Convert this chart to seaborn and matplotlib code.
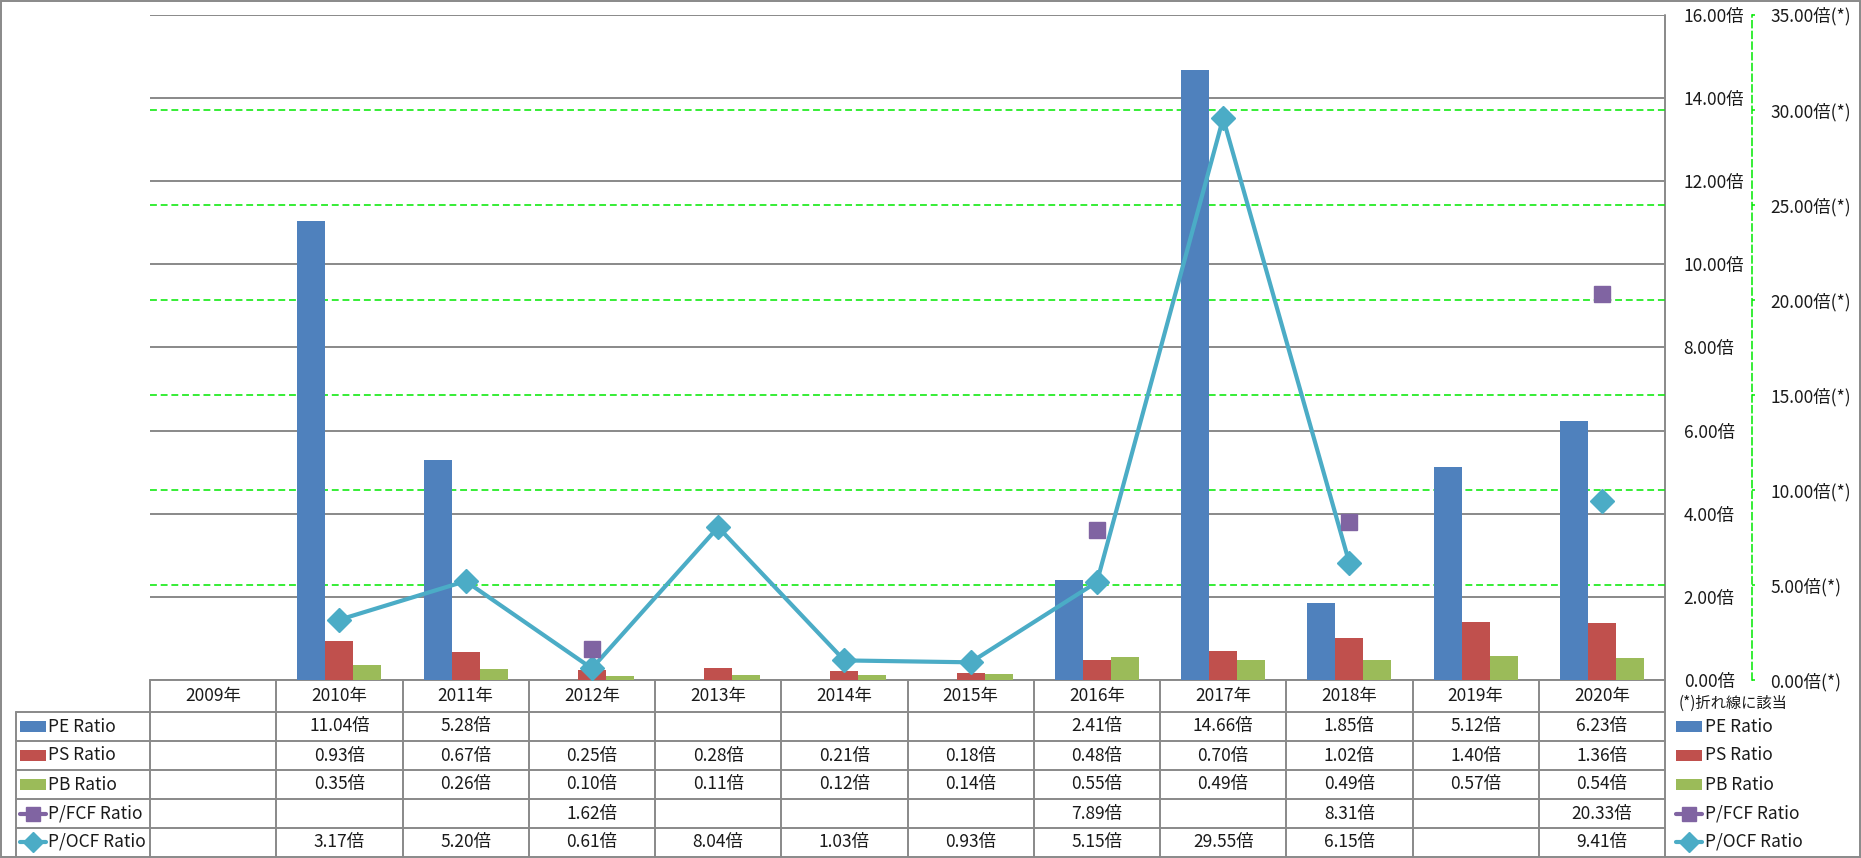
import numpy as np
import pandas as pd
import matplotlib
matplotlib.use("Agg")
import matplotlib.pyplot as plt
import seaborn as sns
from matplotlib.patches import Rectangle
from matplotlib.lines import Line2D
from matplotlib.transforms import blended_transform_factory

# ---------------- data ----------------
years = ["2009年", "2010年", "2011年", "2012年", "2013年", "2014年",
         "2015年", "2016年", "2017年", "2018年", "2019年", "2020年"]
nan = np.nan
pe_ratio = [nan, 11.04, 5.28, nan, nan, nan, nan, 2.41, 14.66, 1.85, 5.12, 6.23]
ps_ratio = [nan, 0.93, 0.67, 0.25, 0.28, 0.21, 0.18, 0.48, 0.70, 1.02, 1.40, 1.36]
pb_ratio = [nan, 0.35, 0.26, 0.10, 0.11, 0.12, 0.14, 0.55, 0.49, 0.49, 0.57, 0.54]
pfcf_ratio = [nan, nan, nan, 1.62, nan, nan, nan, 7.89, nan, 8.31, nan, 20.33]
pocf_ratio = [nan, 3.17, 5.20, 0.61, 8.04, 1.03, 0.93, 5.15, 29.55, 6.15, nan, 9.41]

bar_names = ["PE Ratio", "PS Ratio", "PB Ratio"]
line_names = ["P/FCF Ratio", "P/OCF Ratio"]
primary_ticks = [0, 2, 4, 6, 8, 10, 12, 14, 16]
secondary_ticks = [0, 5, 10, 15, 20, 25, 30, 35]
note_text = "(*)折れ線に該当"

# ---------------- style ----------------
C_PE, C_PS, C_PB = "#4F81BD", "#C0504D", "#9BBB59"
C_FCF, C_OCF = "#8064A2", "#4BACC6"
GRAY = "#898989"
GREEN = "#00E800"
TXT = "#1a1a1a"
FS = 12.5

sns.set_style("white")
plt.rcParams["font.family"] = ["Noto Sans CJK JP", "DejaVu Sans"]

W, H, DPI = 1861, 858, 100
fig = plt.figure(figsize=(W / DPI, H / DPI), dpi=DPI)
fig.patch.set_facecolor("white")

# plot area in pixels
L, R, T, B = 150, 1665, 14.7, 680
row_edges = [712, 741, 770, 799, 828, 856]

# overlay for table / frame
ov = fig.add_axes([0, 0, 1, 1])
ov.set_xlim(0, W)
ov.set_ylim(H, 0)
ov.axis("off")

ax = fig.add_axes([L / W, (H - B) / H, (R - L) / W, (B - T) / H])
ax.patch.set_alpha(0)

df = pd.DataFrame({
    "year": years * 3,
    "series": [bar_names[0]] * 12 + [bar_names[1]] * 12 + [bar_names[2]] * 12,
    "value": pe_ratio + ps_ratio + pb_ratio,
}).dropna()

sns.barplot(data=df, x="year", y="value", hue="series", order=years,
            hue_order=bar_names, palette=[C_PE, C_PS, C_PB], width=0.665,
            saturation=1, errorbar=None, linewidth=0, legend=False,
            ax=ax, zorder=3)

ax2 = ax.twinx()
xpos = np.arange(len(years))
ax2.plot(xpos, pocf_ratio, color=C_OCF, lw=3, marker="D", ms=12.5,
         mec=C_OCF, zorder=5)
ax2.plot(xpos, pfcf_ratio, ls="none", color=C_FCF, marker="s", ms=12,
         mec=C_FCF, zorder=6)

ax.set_xlim(-0.5, len(years) - 0.5)
ax.set_ylim(primary_ticks[0], primary_ticks[-1])
ax2.set_ylim(secondary_ticks[0], secondary_ticks[-1])

# grids
ax.set_yticks(primary_ticks)
ax.yaxis.grid(True, color=GRAY, lw=1.4)
ax.xaxis.grid(False)
ax.set_axisbelow(True)
tr = blended_transform_factory(ax.transAxes, ax2.transData)
for v in secondary_ticks[1:-1]:
    ax.plot([0, 1], [v, v], transform=tr, color=GREEN, lw=1.1,
            ls=(0, (4.5, 2.5)), zorder=1)

# axes styling
ax.set_xlabel("")
ax.set_ylabel("")
ax.tick_params(axis="x", length=0, labelbottom=False)
ax.yaxis.tick_right()
ax.set_yticklabels([f"{v:.2f}倍" for v in primary_ticks])
ax.tick_params(axis="y", length=0, pad=13.5, labelsize=FS, labelcolor=TXT)
for s in ax.spines.values():
    s.set_visible(False)

ax2.set_yticks(secondary_ticks)
ax2.set_yticklabels([f"{v:.2f}倍(*)" for v in secondary_ticks])
for k in ["top", "left", "bottom"]:
    ax2.spines[k].set_visible(False)
ax2.spines["right"].set_position(("axes", (1752 - L) / (R - L)))
ax2.spines["right"].set_color(GREEN)
ax2.spines["right"].set_linewidth(1.1)
ax2.spines["right"].set_linestyle((0, (4.5, 2.5)))
ax2.tick_params(axis="y", length=2.5, width=1.1, color=GREEN, pad=10.5,
                labelsize=FS, labelcolor=TXT)
ax2.set_ylabel("")

# ---------------- table ----------------
n = len(years)
colw = (R - L) / n
col_edges = [L + i * colw for i in range(n + 1)]
LW = 1.4
# frame
ov.add_patch(Rectangle((1, 1), W - 2.5, H - 2.5, fill=False, ec=GRAY, lw=1.4))
# horizontal lines
ov.plot([L, R], [B, B], color=GRAY, lw=LW)
for y in row_edges[:-1]:
    ov.plot([16, R], [y, y], color=GRAY, lw=LW)
# vertical lines
ov.plot([16, 16], [row_edges[0], row_edges[-1]], color=GRAY, lw=LW)
for i, x in enumerate(col_edges):
    top = T if i == n else B
    ov.plot([x, x], [top, row_edges[-1]], color=GRAY, lw=LW)

# header
for i, yl in enumerate(years):
    ov.text(L + (i + 0.5) * colw, (B + row_edges[0]) / 2, yl, ha="center",
            va="center", fontsize=FS, color=TXT)

row_vals = [pe_ratio, ps_ratio, pb_ratio, pfcf_ratio, pocf_ratio]
row_names = bar_names + line_names
row_colors = [C_PE, C_PS, C_PB, C_FCF, C_OCF]
row_markers = [None, None, None, "s", "D"]
for r, (name, vals, col, mk) in enumerate(zip(row_names, row_vals,
                                              row_colors, row_markers)):
    yc = (row_edges[r] + row_edges[r + 1]) / 2
    for i, v in enumerate(vals):
        if not np.isnan(v):
            ov.text(L + (i + 0.5) * colw, yc, f"{v:.2f}倍", ha="center",
                    va="center", fontsize=FS, color=TXT)
    for x0, tx in [(20, 48), (1676, 1705)]:
        if mk is None:
            ov.add_patch(Rectangle((x0, yc - 5.5), 26, 11, color=col, lw=0))
        else:
            ov.add_line(Line2D([x0, x0 + 26], [yc, yc], color=col, lw=3))
            ov.add_line(Line2D([x0 + 13], [yc], marker=mk, color=col,
                               ms=10 if mk == "s" else 10.5, mec=col))
        ov.text(tx, yc, name, ha="left", va="center", fontsize=FS, color=TXT)

ov.text(1679, 703, note_text, ha="left", va="center", fontsize=11, color=TXT)

fig.savefig("out.png", dpi=DPI, facecolor="white")
